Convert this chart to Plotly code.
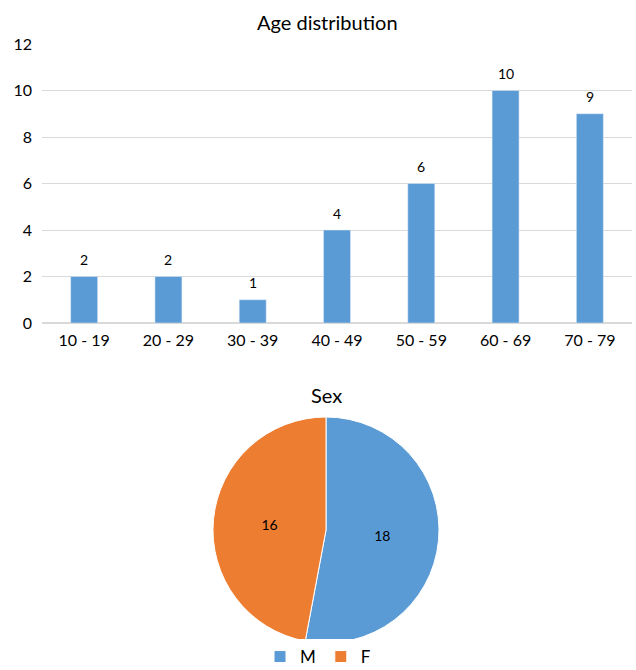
import plotly.graph_objects as go

age_groups = ["10 - 19", "20 - 29", "30 - 39", "40 - 49", "50 - 59", "60 - 69", "70 - 79"]
age_counts = [2, 2, 1, 4, 6, 10, 9]
sex_labels = ["M", "F"]
sex_counts = [18, 16]

W, H = 636, 670
FONT = "Lato, Open Sans, sans-serif"
BLUE = "#5B9BD5"
ORANGE = "#ED7D31"

fig = go.Figure()
fig.add_trace(go.Bar(
    x=age_groups, y=age_counts, marker_color=BLUE, width=0.32,
    showlegend=False, xaxis="x", yaxis="y",
))
fig.add_trace(go.Pie(
    labels=sex_labels, values=sex_counts, sort=False, direction="clockwise",
    rotation=0, marker=dict(colors=[BLUE, ORANGE], line=dict(color="#ffffff", width=1)),
    textinfo="value", textposition="inside", insidetextorientation="horizontal",
    textfont=dict(size=14, color="#000"),
    domain=dict(x=[213 / W, 439 / W], y=[1 - 643 / H, 1 - 417 / H]),
    showlegend=True,
))

annotations = [
    dict(text="Age distribution", x=327 / W, y=1 - 22 / H, xref="paper", yref="paper",
         showarrow=False, font=dict(size=20, color="#000"), xanchor="center", yanchor="middle"),
    dict(text="Sex", x=326 / W, y=1 - 395 / H, xref="paper", yref="paper",
         showarrow=False, font=dict(size=20, color="#000"), xanchor="center", yanchor="middle"),
]
for g, v in zip(age_groups, age_counts):
    annotations.append(dict(text=str(v), x=g, y=v, xref="x", yref="y", showarrow=False,
                            yshift=17, font=dict(size=14, color="#000"),
                            xanchor="center", yanchor="middle"))

fig.update_layout(
    width=W, height=H, margin=dict(l=0, r=0, t=0, b=0, autoexpand=False),
    paper_bgcolor="white", plot_bgcolor="white",
    font=dict(family=FONT, color="#000"),
    xaxis=dict(domain=[42 / W, 632 / W], anchor="y", showgrid=False, showline=False,
               ticks="", tickfont=dict(size=16, color="#000"), automargin=False,
               ticklabelstandoff=6),
    yaxis=dict(domain=[1 - 323 / H, 1 - 44 / H], anchor="x", range=[0, 12], dtick=2,
               showgrid=True, gridcolor="#D9D9D9", gridwidth=1, zeroline=True,
               zerolinecolor="#D9D9D9", zerolinewidth=2, ticks="", automargin=False,
               tickfont=dict(size=16, color="#000"), ticklabelstandoff=9),
    legend=dict(orientation="h", x=0.5, xanchor="center", y=1 - 657 / H, yanchor="middle",
                font=dict(size=17, color="#000"), itemwidth=30, tracegroupgap=0),
    annotations=annotations,
)

fig.write_html("out.html")
